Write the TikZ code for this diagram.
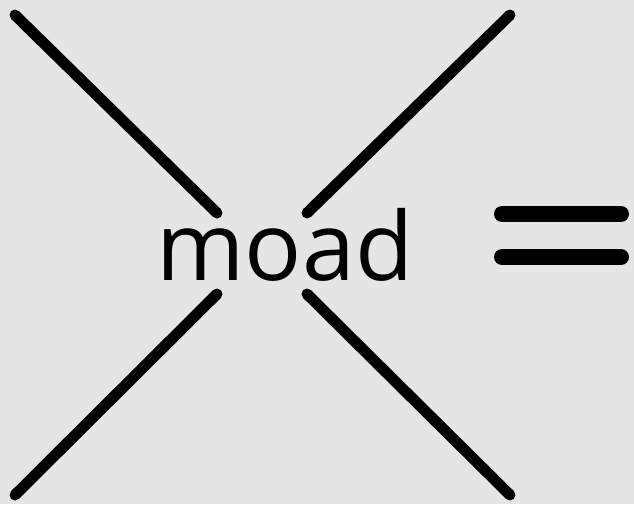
\documentclass[tikz,border=0pt]{standalone}
\usepackage{fontspec}
\setmainfont{Open Sans}
\definecolor{bg}{RGB}{229,229,229}
\begin{document}
\begin{tikzpicture}[x=1pt,y=-1pt,
  stroke/.style={line width=11pt,line cap=round,black},
  bar/.style={line width=16pt,line cap=round,black}]
\fill[bg] (0,0) rectangle (634,504);
\useasboundingbox (0,0) rectangle (634,504);
\draw[stroke] (15,15) -- (217,213);
\draw[stroke] (510,15) -- (307,213);
\draw[stroke] (217,294) -- (15,495);
\draw[stroke] (307,294) -- (510,495);
\draw[bar] (502,214) -- (621,214);
\draw[bar] (502,257) -- (621,257);
\node[anchor=base,inner sep=0pt,font=\fontsize{95}{95}\selectfont] (word) at (285,280) {moad};
\end{tikzpicture}
\end{document}
